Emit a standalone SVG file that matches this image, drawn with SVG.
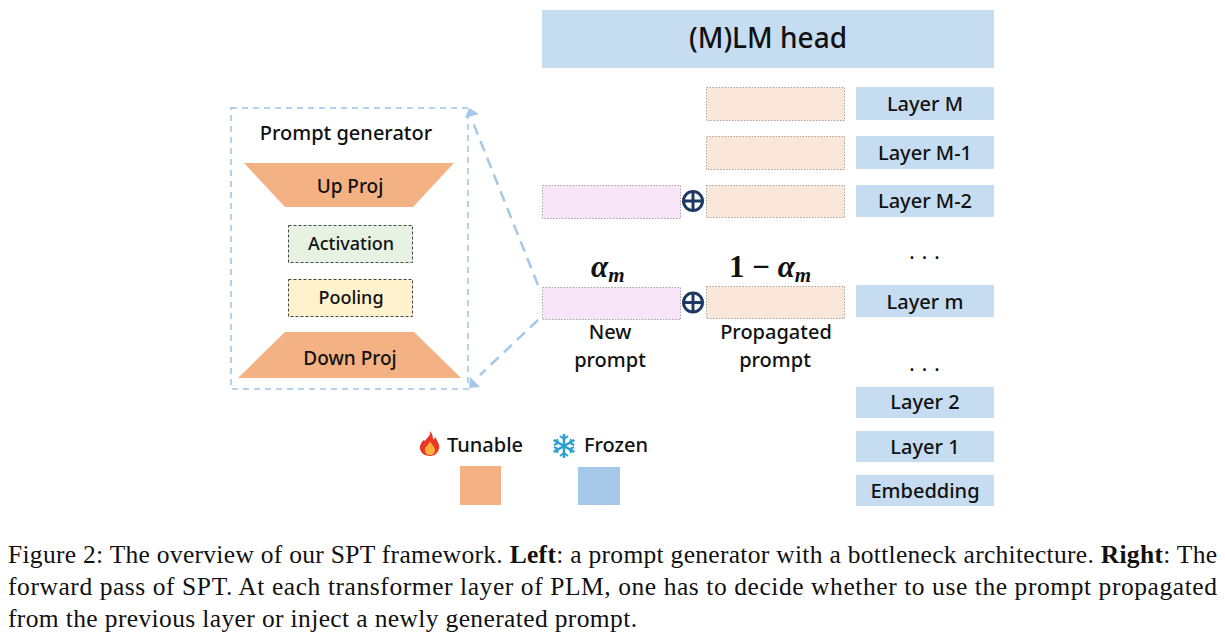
<svg xmlns="http://www.w3.org/2000/svg" width="1225" height="639" viewBox="0 0 1225 639">
<style>
.l{font-family:"Noto Sans","Open Sans",sans-serif;fill:#111;text-anchor:middle;font-weight:500}
.s{font-size:20px}.h{font-size:28px}.m{font-size:19px}
.layer{fill:#c6dcf0}
.prop{fill:#fbe7d9;stroke:#a9a29c;stroke-width:1;stroke-dasharray:1.5 1.5}
.new{fill:#f8e5f7;stroke:#a9a2a8;stroke-width:1;stroke-dasharray:1.5 1.5}
.proj{fill:#f4b183}
.dash{fill:none;stroke:#b4d2ec;stroke-width:2;stroke-dasharray:6 5}
.dash2{fill:none;stroke:#a5c8e8;stroke-width:2.500;stroke-dasharray:11 7}
.cap{font-family:"Liberation Serif",serif;font-size:25.500px;fill:#111}
.math{font-family:"Liberation Serif",serif;font-weight:700;fill:#111;font-size:31px}
.circ{fill:none;stroke:#1f3864;stroke-width:3}
.ar{fill:#a5c8e8}
.dot{fill:#333}
</style>
<g id="head"><rect class="layer" x="542" y="10" width="452" height="58"/><text class="l h" x="768" y="48">(M)LM head</text></g>
<g id="layer-M"><rect class="layer" x="856" y="87" width="138" height="33"/><text class="l s" x="925" y="111">Layer M</text></g>
<g id="layer-M1"><rect class="layer" x="856" y="136" width="138" height="33"/><text class="l s" x="925" y="160">Layer M-1</text></g>
<g id="layer-M2"><rect class="layer" x="856" y="185" width="138" height="32"/><text class="l s" x="925" y="208">Layer M-2</text></g>
<g id="dots1"><text class="l s" x="928" y="259" letter-spacing="7">...</text></g>
<g id="layer-m"><rect class="layer" x="856" y="285" width="138" height="32"/><text class="l s" x="925" y="309">Layer m</text></g>
<g id="dots2"><text class="l s" x="928" y="371" letter-spacing="7">...</text></g>
<g id="layer-2"><rect class="layer" x="856" y="387" width="138" height="31"/><text class="l s" x="925" y="409">Layer 2</text></g>
<g id="layer-1"><rect class="layer" x="856" y="431" width="138" height="31"/><text class="l s" x="925" y="454">Layer 1</text></g>
<g id="embedding"><rect class="layer" x="856" y="475" width="138" height="31"/><text class="l s" x="925" y="498">Embedding</text></g>
<g id="prop-M"><rect class="prop" x="706.500" y="87.500" width="138" height="33"/></g>
<g id="prop-M1"><rect class="prop" x="706.500" y="136.500" width="138" height="33"/></g>
<g id="prop-M2"><rect class="prop" x="706.500" y="185.500" width="138" height="32"/></g>
<g id="prop-m"><rect class="prop" x="706.500" y="286.500" width="138" height="32"/></g>
<g id="new-M2"><rect class="new" x="542.500" y="185.500" width="138" height="33"/></g>
<g id="new-m"><rect class="new" x="542.500" y="287.500" width="138" height="32"/></g>
<g id="plus-M2"><circle class="circ" cx="693" cy="201" r="9.500"/><path d="M683.500 201H702.500M693 191.500V210.500" stroke="#1f3864" stroke-width="3"/></g>
<g id="plus-m"><circle class="circ" cx="693" cy="302.500" r="9.500"/><path d="M683.500 302.500H702.500M693 293V312" stroke="#1f3864" stroke-width="3"/></g>
<g id="alpha"><text class="math" x="591" y="277" font-style="italic">α<tspan font-size="21" dy="5">m</tspan></text></g>
<g id="one-minus-alpha"><text class="math" x="729" y="277">1 − <tspan font-style="italic">α</tspan><tspan font-size="21" font-style="italic" dy="5">m</tspan></text></g>
<g id="new-label"><text class="l s" x="610" y="339">New</text><text class="l s" x="610" y="367">prompt</text></g>
<g id="prop-label"><text class="l s" x="776" y="339">Propagated</text><text class="l s" x="775" y="367">prompt</text></g>
<g id="generator">
<rect class="dash" x="231" y="108" width="237" height="281"/>
<text class="l s" x="346" y="140">Prompt generator</text>
</g>
<g id="up-proj"><polygon class="proj" points="244,163 454,163 413,207 285,207"/><text class="l m" x="350" y="193">Up Proj</text></g>
<g id="activation"><rect x="288.500" y="225.500" width="124" height="37" fill="#e8f2e2" stroke="#444" stroke-dasharray="3 2"/><text class="l" font-size="18" x="351" y="250">Activation</text></g>
<g id="pooling"><rect x="288.500" y="279.500" width="124" height="37" fill="#fff2cc" stroke="#444" stroke-dasharray="3 2"/><text class="l" font-size="18" x="351" y="304">Pooling</text></g>
<g id="down-proj"><polygon class="proj" points="238,378 461,378 414,332 285,332"/><text class="l m" x="350" y="365">Down Proj</text></g>
<g id="connectors">
<path class="dash2" d="M538 285L472 120"/>
<path class="dash2" d="M538 320L480 375"/>
<polygon class="ar" points="465,118 469,108 479,114"/>
<polygon class="ar" points="469,388 480,387 470,377"/>
</g>
<g id="legend">
<path d="M430 431C431 436 427 437 425 441C423 438 421 444 420 446C419 452 424 456 430 456C436 456 440 451 439 445C438 441 436 440 436 437C434 439 433 440 433 439C433 436 432 433 430 431Z" fill="#e8382a"/>
<path d="M430 441C430 444 425 446 425 450C425 453 427 455 430 455C433 455 435 453 435 450C435 447 432 445 430 441Z" fill="#fbb03b"/>
<g stroke="#2ca0d0" stroke-width="2.500" fill="none"><path d="M564 434V458M553.600 440L574.400 452M553.600 452L574.400 440"/><path d="M560 436L564 439L568 436M560 456L564 453L568 456M554 445L558 443L557 439M574 445L570 443L571 439M554 447L558 449L557 453M574 447L570 449L571 453" stroke-width="2"/></g>
<text class="l s" x="485" y="452">Tunable</text><text class="l s" x="616" y="452">Frozen</text>
<rect x="460" y="466" width="41" height="39" fill="#f4b183"/><rect x="578" y="467" width="42" height="38" fill="#a5c8e8"/>
</g>
<g id="caption">
<text class="cap" x="8" y="563" textLength="1209">Figure 2: The overview of our SPT framework. <tspan font-weight="700">Left</tspan>: a prompt generator with a bottleneck architecture. <tspan font-weight="700">Right</tspan>: The</text>
<text class="cap" x="8" y="595" textLength="1209">forward pass of SPT. At each transformer layer of PLM, one has to decide whether to use the prompt propagated</text>
<text class="cap" x="8" y="627" textLength="629">from the previous layer or inject a newly generated prompt.</text>
</g>
</svg>
